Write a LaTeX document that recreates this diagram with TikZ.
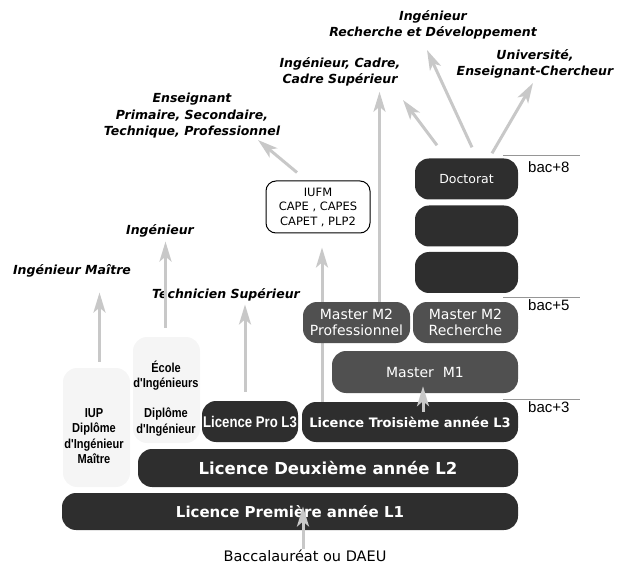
\documentclass[tikz,border=0pt]{standalone}
\usepackage{fontspec}
\setmainfont{DejaVu Sans}
\newfontfamily\narrowfont[FakeStretch=0.85]{Liberation Sans}
\newfontfamily\arialfont{Liberation Sans}
\usetikzlibrary{arrows.meta, backgrounds, positioning, calc}
\definecolor{boxdark}{RGB}{46,46,46}
\definecolor{boxmid}{RGB}{80,80,80}
\definecolor{arrowgray}{RGB}{200,200,200}
\definecolor{palegray}{RGB}{245,245,245}
\definecolor{rulegray}{RGB}{150,150,150}

\tikzset{
  darkbox/.style={fill=boxdark, rounded corners=14pt, text=white, inner sep=0pt, align=center,
    font=\bfseries\fontsize{15}{17}\selectfont},
  midbox/.style={darkbox, fill=boxmid, font=\fontsize{14}{16}\selectfont},
  palebox/.style={fill=palegray, rounded corners=14pt, inner sep=0pt},
  iufmbox/.style={draw=black, line width=1pt, fill=white, rounded corners=10pt, inner sep=0pt,
    align=center, font=\fontsize{11.5}{14.5}\selectfont},
  schooltext/.style={align=center, inner sep=0pt, font=\narrowfont\bfseries\fontsize{13}{15.5}\selectfont},
  career/.style={align=center, inner sep=1pt, font=\bfseries\itshape\fontsize{12.5}{16.5}\selectfont},
  path/.style={draw=arrowgray, line width=3pt, -{Stealth[length=20pt, width=12pt, inset=5pt]}},
  levelrule/.style={draw=rulegray, line width=0.8pt},
  levelnote/.style={anchor=west, inner sep=0pt, font=\arialfont\fontsize{15}{17}\selectfont}
}

\begin{document}
\begin{tikzpicture}[x=1pt, y=-1pt]
  \useasboundingbox (0,0) rectangle (622,567);

  % licence
  \node[darkbox, minimum width=456pt, minimum height=37pt] (L1) at (290,511.5) {Licence Première année L1};
  \node[darkbox, minimum width=380pt, minimum height=38pt,
        font=\bfseries\fontsize{16.5}{18}\selectfont] (L2) at (328,468) {Licence Deuxième année L2};
  \node[darkbox, minimum width=96pt, minimum height=41pt,
        font=\narrowfont\bfseries\fontsize{15.5}{17}\selectfont] (LPro) at (250,421.5) {Licence Pro L3};
  \node[darkbox, minimum width=216pt, minimum height=40pt,
        font=\bfseries\fontsize{13}{15}\selectfont] (L3) at (410,422) {Licence Troisième année L3};

  % master
  \node[midbox, minimum width=186pt, minimum height=42pt] (M1) at (425,372) {Master\ \ M1};
  \node[midbox, minimum width=107pt, minimum height=41pt] (M2P) at (356.5,322.5) {Master M2\\Professionnel};
  \node[midbox, minimum width=105pt, minimum height=41pt] (M2R) at (465.5,322.5) {Master M2\\Recherche};

  % doctorat
  \foreach \y/\name/\txt in {272.5/D3/, 226/D2/, 179/Doc/Doctorat}
    \node[darkbox, minimum width=103pt, minimum height=41pt,
          font=\fontsize{12.5}{14}\selectfont] (\name) at (466.5,\y) {\txt};

  % IUP, ecole, IUFM
  \node[palebox, minimum width=67pt, minimum height=119pt] (IUP) at (96.5,427.5) {};
  \node[schooltext] (IUPtxt) at (94,436) {IUP\\Diplôme\\d'Ingénieur\\Maître};
  \node[palebox, minimum width=67pt, minimum height=106pt] (Ecole) at (166.5,390) {};
  \node[schooltext] (Ecoletxt) at (166,375.5) {École\\d'Ingénieurs};
  \node[schooltext] (Diplotxt) at (166,422) {Diplôme\\d'Ingénieur};
  \node[iufmbox, minimum width=104pt, minimum height=52pt] (IUFM) at (318,207) {IUFM\\CAPE , CAPES\\CAPET , PLP2};

  % debouches
  \node[career] (imaitre) at (72,271) {Ingénieur Maître};
  \node[career] (ing) at (160,231) {Ingénieur};
  \node[career] (tech) at (226,295) {Technicien Supérieur};
  \node[career] (ens) at (192,116) {Enseignant\\Primaire, Secondaire,\\Technique, Professionnel};
  \node[career] (cadre) at (340,72) {Ingénieur, Cadre,\\Cadre Supérieur};
  \node[career] (rd) at (433,25) {Ingénieur\\Recherche et Développement};
  \node[career] (univ) at (535,64) {Université,\\Enseignant-Chercheur};
  \node[font=\fontsize{14.5}{16}\selectfont, inner sep=1pt] (bac) at (305,556) {Baccalauréat ou DAEU};

  \coordinate (tipEns) at (258,140);
  \coordinate (tipCadre) at (403,100);
  \coordinate (tipRD) at (427,50);
  \coordinate (tipUniv) at (533,83);

  % niveaux
  \draw[levelrule] (503,155) -- (580,155);
  \node[levelnote] (bac8) at (528,167) {bac+8};
  \draw[levelrule] (503,297) -- (580,297);
  \node[levelnote] (bac5) at (528,305) {bac+5};
  \draw[levelrule] (503,399) -- (580,399);
  \node[levelnote] (bac3) at (528,407) {bac+3};

  % fleches
  \begin{scope}[on background layer]
    \draw[path] ([xshift=4pt]IUFM.south |- L3.north) -- ([xshift=4pt, yshift=-14pt]IUFM.south);
  \end{scope}
  \draw[path, shorten <=6pt, shorten >=14pt] ([xshift=3pt]IUP.north) -- ([xshift=3pt]IUP.north |- imaitre.south);
  \draw[path, shorten <=9pt, shorten >=3pt] ([xshift=-1pt]Ecole.north) -- ([xshift=-1pt]Ecole.north |- ing.south);
  \draw[path, shorten <=9pt, shorten >=2pt] ([xshift=-5pt]LPro.north) -- ([xshift=-5pt]LPro.north |- tech.south);
  \draw[path, shorten >=4pt] ([xshift=23pt]M2P.north) -- ([xshift=23pt]M2P.north |- cadre.south);
  \draw[path] ([shift={(-21,-8)}]IUFM.north) -- (tipEns);
  \draw[path] ([shift={(-29.5,-13)}]Doc.north) -- (tipCadre);
  \draw[path] ([shift={(5.5,-11)}]Doc.north) -- (tipRD);
  \draw[path] ([shift={(25.5,-5)}]Doc.north) -- (tipUniv);
  \draw[path, shorten >=-5pt] ([xshift=-2pt]bac.north) -- ([xshift=-2pt]bac.north |- L1.center);
  \draw[path, shorten <=10pt] ([xshift=-2pt]M1.south |- L3.center) -- ([xshift=-2pt, yshift=7pt]M1.south);
\end{tikzpicture}
\end{document}
